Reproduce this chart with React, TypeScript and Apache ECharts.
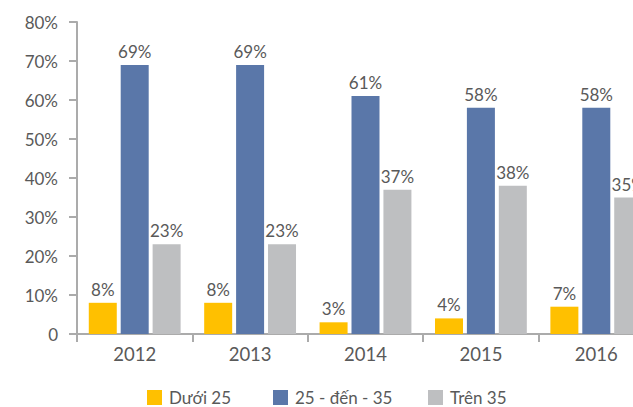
import React, { useEffect, useRef } from "react";
import * as echarts from "echarts";

const categories = ["2012", "2013", "2014", "2015", "2016"];
const seriesNames = ["Dưới 25", "25 - đến - 35", "Trên 35"];
const under25 = [8, 8, 3, 4, 7];
const from25to35 = [69, 69, 61, 58, 58];
const over35 = [23, 23, 37, 38, 35];
const yTicks = [0, 10, 20, 30, 40, 50, 60, 70, 80];

const colors = ["#FFC000", "#5A77A9", "#BEBFC1"];
const textColor = "#595959";
const axisColor = "#ABABAB";
const FONT = "Lato";

export default function App() {
  const ref = useRef<HTMLDivElement>(null);
  useEffect(() => {
    if (!ref.current) return;
    const chart = echarts.init(ref.current, undefined, { renderer: "svg" });
    const values = [under25, from25to35, over35];
    const legendLefts = [142, 268, 423];
    chart.setOption({
      animation: false,
      textStyle: { fontFamily: FONT },
      grid: { left: 77, right: 26, top: 22, bottom: 73, containLabel: false },
      legend: seriesNames.map((n, i) => ({
        data: [n],
        left: legendLefts[i],
        top: 384,
        itemWidth: 15,
        itemHeight: 15,
        icon: "rect",
        itemGap: 0,
        textStyle: { color: textColor, fontSize: 17, fontFamily: FONT, padding: [0, 0, 0, 2] },
      })),
      xAxis: {
        type: "category",
        data: categories,
        axisLine: { show: true, lineStyle: { color: axisColor, width: 2 } },
        axisTick: { show: true, length: 8, lineStyle: { color: axisColor, width: 2 } },
        axisLabel: { color: textColor, fontSize: 18.5, margin: 10, fontFamily: FONT },
      },
      yAxis: {
        type: "value",
        min: 0,
        max: 80,
        interval: 10,
        axisLine: { show: true, lineStyle: { color: axisColor, width: 2 } },
        axisTick: { show: true, length: 8, lineStyle: { color: axisColor, width: 2 } },
        splitLine: { show: false },
        axisLabel: {
          color: textColor,
          fontSize: 17,
          margin: 19,
          fontFamily: FONT,
          formatter: (v: number) => (v === 0 ? "0" : `${v}%`),
        },
      },
      series: seriesNames.map((n, i) => ({
        name: n,
        type: "bar",
        data: values[i],
        barWidth: 28,
        barGap: "14%",
        itemStyle: { color: colors[i] },
        label: {
          show: true,
          position: "top",
          distance: 5,
          color: textColor,
          fontSize: 17,
          fontFamily: FONT,
          formatter: (p: any) => `${p.value}%`,
        },
      })),
    });
    return () => chart.dispose();
  }, []);
  return (
    <div
      style={{
        position: "fixed",
        left: 0,
        top: 0,
        width: 633,
        height: 407,
        overflow: "hidden",
        background: "#fff",
      }}
    >
      <div ref={ref} style={{ width: 680, height: 407 }} />
    </div>
  );
}
